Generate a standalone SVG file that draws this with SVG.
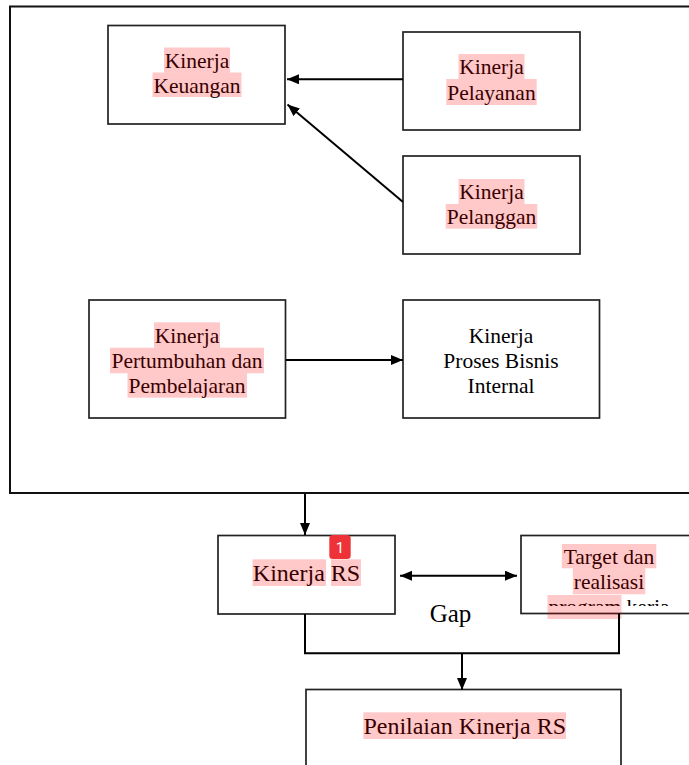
<svg xmlns="http://www.w3.org/2000/svg" width="689" height="765" viewBox="0 0 689 765">
<style>
.box{fill:#fff;stroke:#222;stroke-width:1.7}
.frame{fill:none;stroke:#111;stroke-width:2}
.t{font-family:"Liberation Serif","Times New Roman",serif;font-size:21.5px;fill:#000;text-anchor:middle}
.tb{font-family:"Liberation Serif","Times New Roman",serif;font-size:24px;fill:#000;text-anchor:middle}
.hl{fill:#ff0000;fill-opacity:0.21}
.ln{fill:none;stroke:#000;stroke-width:2}
</style>
<defs>
<marker id="ah" markerUnits="userSpaceOnUse" markerWidth="13" markerHeight="11" refX="12" refY="5" orient="auto-start-reverse">
<path d="M0,0 L12,5 L0,10 z" fill="#000"/>
</marker>
<clipPath id="cut"><rect x="521" y="530" width="200" height="76"/></clipPath>
</defs>
<rect width="689" height="765" fill="#fff"/>
<rect class="frame" x="10" y="6.5" width="700" height="486.5"/>

<g id="keuangan">
<rect class="box" x="108" y="25.5" width="177" height="98.5"/>
<text class="t" x="197" y="67.5">Kinerja</text>
<text class="t" x="197" y="92.5">Keuangan</text>
<rect class="hl" x="164" y="47.5" width="66" height="25"/>
<rect class="hl" x="152.5" y="72.5" width="89" height="24.5"/>
</g>

<g id="pelayanan">
<rect class="box" x="403" y="32" width="177" height="98"/>
<text class="t" x="491.5" y="74">Kinerja</text>
<text class="t" x="491.5" y="99.5">Pelayanan</text>
<rect class="hl" x="458.5" y="54" width="66" height="25"/>
<rect class="hl" x="446.3" y="79" width="90.4" height="26"/>
</g>

<g id="pelanggan">
<rect class="box" x="403" y="156" width="177" height="98"/>
<text class="t" x="491.5" y="199">Kinerja</text>
<text class="t" x="491.5" y="224">Pelanggan</text>
<rect class="hl" x="458.5" y="179" width="66" height="25"/>
<rect class="hl" x="445.7" y="204" width="91.6" height="24.7"/>
</g>

<g id="pertumbuhan">
<rect class="box" x="89" y="300" width="196.5" height="118"/>
<text class="t" x="187" y="342.5">Kinerja</text>
<text class="t" x="187" y="368">Pertumbuhan dan</text>
<text class="t" x="187" y="393">Pembelajaran</text>
<rect class="hl" x="154" y="322.3" width="66" height="25.4"/>
<rect class="hl" x="110" y="347.7" width="154" height="25.6"/>
<rect class="hl" x="127.5" y="373.3" width="119.5" height="24.4"/>
</g>

<g id="proses">
<rect class="box" x="403" y="300" width="196.5" height="118"/>
<text class="t" x="501" y="342.5">Kinerja</text>
<text class="t" x="501" y="368">Proses Bisnis</text>
<text class="t" x="501" y="393">Internal</text>
</g>

<g id="kinerja-rs">
<rect class="box" x="218" y="535.5" width="177" height="78.5"/>
<text class="tb" x="306.5" y="580.5">Kinerja RS</text>
<rect class="hl" x="252.5" y="559.3" width="73.5" height="26.7"/>
<rect class="hl" x="331" y="559.3" width="30" height="26.7"/>
</g>

<g id="target">
<rect class="box" x="521" y="535.5" width="200" height="78"/>
<text class="t" x="609" y="564">Target dan</text>
<text class="t" x="609" y="589">realisasi</text>
<text class="t" x="609" y="614" clip-path="url(#cut)">program kerja</text>
<rect class="hl" x="561.8" y="544" width="94.5" height="24.3"/>
<rect class="hl" x="572.8" y="568.3" width="72.5" height="26"/>
<rect class="hl" x="547.5" y="595" width="74" height="24"/>
</g>

<g id="gap-label">
<text class="tb" x="450.5" y="622" style="font-size:25px">Gap</text>
</g>

<g id="penilaian">
<rect class="box" x="306" y="689.5" width="315" height="100"/>
<text class="tb" x="464.7" y="734">Penilaian Kinerja RS</text>
<rect class="hl" x="363.3" y="712.3" width="202.7" height="26.7"/>
</g>

<g id="connectors">
<line class="ln" x1="403" y1="79.3" x2="287" y2="79.3" marker-end="url(#ah)"/>
<line class="ln" x1="403" y1="202" x2="287.5" y2="104.5" marker-end="url(#ah)"/>
<line class="ln" x1="286" y1="360" x2="403" y2="360" marker-end="url(#ah)"/>
<line class="ln" x1="305" y1="494" x2="305" y2="535" marker-end="url(#ah)"/>
<line class="ln" x1="400" y1="575.7" x2="517" y2="575.7" marker-start="url(#ah)" marker-end="url(#ah)"/>
<path class="ln" d="M305,614 V653.3 H619 V613.5"/>
<line class="ln" x1="462" y1="653.3" x2="462" y2="690" marker-end="url(#ah)"/>
</g>

<g id="badge">
<rect x="329.3" y="535" width="21.4" height="24" rx="3.5" fill="#ee3338"/>
<text x="340" y="553" font-family="Roboto, 'Liberation Sans', sans-serif" font-size="15" fill="#fff" text-anchor="middle">1</text>
</g>
</svg>
